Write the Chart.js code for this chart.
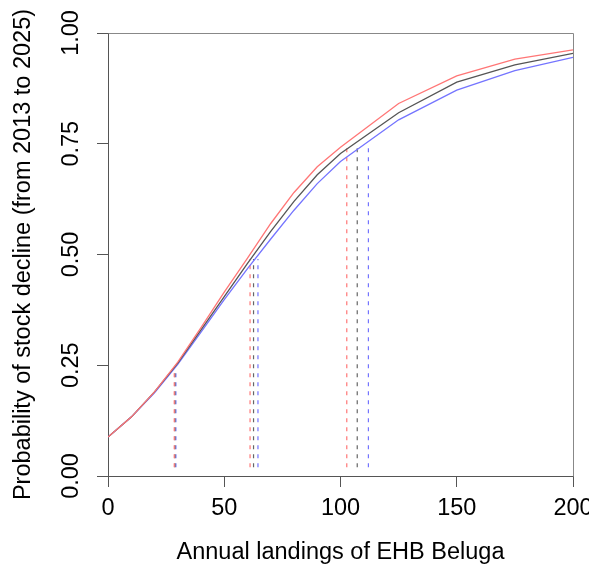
<!DOCTYPE html>
<html>
<head>
<meta charset="utf-8">
<script src="https://cdn.jsdelivr.net/npm/chart.js@4/dist/chart.umd.min.js"></script>
<style>
  body { margin: 0; background: #fff; }
  canvas { display: block; }
</style>
</head>
<body>
<canvas id="myChart" width="589" height="571"></canvas>
<script>
// landings (x) and probability of decline for the three curves
const landings = [0, 10, 20, 30, 40, 50, 60, 70, 80, 90, 100, 125, 150, 175, 200];
const probRed   = [0.088, 0.133, 0.190, 0.257, 0.335, 0.415, 0.492, 0.570, 0.640, 0.698, 0.742, 0.841, 0.903, 0.941, 0.962];
const probBlack = [0.088, 0.133, 0.190, 0.255, 0.330, 0.405, 0.480, 0.552, 0.620, 0.680, 0.728, 0.820, 0.889, 0.928, 0.954];
const probBlue  = [0.088, 0.133, 0.188, 0.252, 0.325, 0.398, 0.468, 0.535, 0.600, 0.660, 0.710, 0.804, 0.871, 0.915, 0.945];

// dashed drop lines (landings where each curve reaches 0.25 / 0.50 / 0.75)
const dashRedX   = [28.5, 61.1, 102.7];
const dashBlackX = [28.8, 62.6, 107.2];
const dashBlueX  = [29.2, 64.5, 112.0];
const dashTop    = [0.24, 0.49, 0.745];
const dashBottom = 0.02;

const xTicks = [0, 50, 100, 150, 200];
const yTicks = [0, 0.25, 0.5, 0.75, 1];

const RED = '#ff7676', BLACK = '#555555', BLUE = '#7474ff';
const FONT = 'Liberation Sans, Arial, Helvetica, sans-serif';
const FSIZE = 23.5;

function curve(vals, col){
  return {
    data: landings.map(function(x, i){ return {x: x, y: vals[i]}; }),
    borderColor: col, borderWidth: 1.3, pointRadius: 0, tension: 0, fill: false
  };
}

var datasets = [curve(probRed, RED), curve(probBlack, BLACK), curve(probBlue, BLUE)];

function addDashes(xs, col){
  for(var i = 0; i < xs.length; i++){
    datasets.push({
      data: [{x: xs[i], y: dashBottom}, {x: xs[i], y: dashTop[i]}],
      borderColor: col, borderWidth: 1.2, borderDash: [4, 5],
      pointRadius: 0, fill: false
    });
  }
}
addDashes(dashRedX, RED);
addDashes(dashBlackX, '#666666');
addDashes(dashBlueX, BLUE);

// box on top/right + rotated y tick labels (like base R)
const rPlot = {
  id: 'rPlot',
  afterDraw: function(chart){
    var ctx = chart.ctx, a = chart.chartArea, ys = chart.scales.y;
    ctx.save();
    ctx.strokeStyle = '#888';
    ctx.lineWidth = 1;
    ctx.beginPath();
    ctx.moveTo(Math.round(a.left) + 0.5, Math.round(a.top) + 0.5);
    ctx.lineTo(Math.round(a.right) + 0.5, Math.round(a.top) + 0.5);
    ctx.lineTo(Math.round(a.right) + 0.5, Math.round(a.bottom) + 0.5);
    ctx.stroke();

    ctx.fillStyle = '#000';
    ctx.font = FSIZE + 'px ' + FONT;
    ctx.textAlign = 'center';
    ctx.textBaseline = 'middle';
    yTicks.forEach(function(v){
      ctx.save();
      ctx.translate(72, ys.getPixelForValue(v));
      ctx.rotate(-Math.PI / 2);
      ctx.fillText(v.toFixed(2), 0, 0);
      ctx.restore();
    });
    ctx.restore();
  }
};

const ctx = document.getElementById('myChart');
new Chart(ctx, {
  type: 'line',
  data: { datasets: datasets },
  plugins: [rPlot],
  options: {
    responsive: false,
    animation: false,
    devicePixelRatio: 1,
    layout: { padding: { top: 33, right: 16, bottom: 0, left: 0 } },
    plugins: { legend: { display: false }, tooltip: { enabled: false } },
    scales: {
      x: {
        type: 'linear', min: 0, max: 200,
        afterBuildTicks: function(s){ s.ticks = xTicks.map(function(v){ return {value: v}; }); },
        afterFit: function(s){ s.height = 95; s.paddingLeft = 0; s.paddingRight = 0; },
        grid: { drawOnChartArea: false, color: '#555', tickLength: 11 },
        border: { color: '#555' },
        ticks: { color: '#000', padding: 7, maxRotation: 0, font: { family: FONT, size: FSIZE } },
        title: { display: true, text: 'Annual landings of EHB Beluga', color: '#000',
                 font: { family: FONT, size: FSIZE }, padding: { top: 0, bottom: 4 } }
      },
      y: {
        type: 'linear', min: 0, max: 1,
        afterBuildTicks: function(s){ s.ticks = yTicks.map(function(v){ return {value: v}; }); },
        afterFit: function(s){ s.width = 108; s.paddingTop = 0; s.paddingBottom = 0; },
        grid: { drawOnChartArea: false, color: '#555', tickLength: 11 },
        border: { color: '#555' },
        ticks: { display: false },
        title: { display: true, text: 'Probability of stock decline (from 2013 to 2025)', color: '#000',
                 font: { family: FONT, size: FSIZE }, padding: { top: 9.5, bottom: 0 } }
      }
    }
  }
});
</script>
</body>
</html>
